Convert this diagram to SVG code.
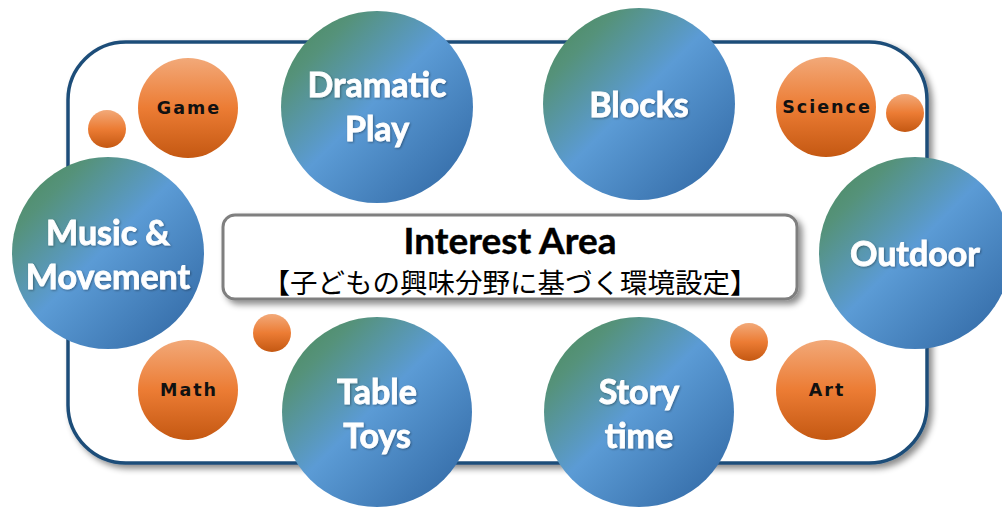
<svg xmlns="http://www.w3.org/2000/svg" width="1002" height="508" viewBox="0 0 1002 508">
<defs>
<linearGradient id="gBlue" x1="0" y1="0" x2="1" y2="1">
<stop offset="0" stop-color="#4a8a58"/>
<stop offset="0.2" stop-color="#55927a"/>
<stop offset="0.48" stop-color="#5b9bd5"/>
<stop offset="1" stop-color="#2e64a0"/>
</linearGradient>
<linearGradient id="gOrange" x1="0" y1="0" x2="0" y2="1">
<stop offset="0" stop-color="#f2a979"/>
<stop offset="0.5" stop-color="#ec7c34"/>
<stop offset="1" stop-color="#c45812"/>
</linearGradient>
<filter id="shadow" x="-10%" y="-10%" width="125%" height="130%">
<feDropShadow dx="4" dy="4" stdDeviation="3" flood-color="#000" flood-opacity="0.45"/>
</filter>
<filter id="tshadow" x="-10%" y="-10%" width="130%" height="140%">
<feDropShadow dx="1" dy="1" stdDeviation="1" flood-color="#000" flood-opacity="0.35"/>
</filter>
</defs>
<style>
.frame{fill:#fff;stroke:#1f4e79;stroke-width:3.5}
.box{fill:#fff;stroke:#7f7f7f;stroke-width:3}
.big{fill:url(#gBlue)}
.mid,.small{fill:url(#gOrange)}
.bt{font-family:Lato,"Open Sans",sans-serif;font-weight:700;font-size:34px;fill:#fff;stroke:#fff;stroke-width:0.8;text-anchor:middle}
.ot{font-family:"DejaVu Sans",sans-serif;font-weight:700;font-size:17.5px;fill:#111;text-anchor:middle;letter-spacing:2px}
.title{font-family:Lato,"Open Sans",sans-serif;font-weight:700;font-size:37px;fill:#000;text-anchor:middle;stroke:#000;stroke-width:0.4}
.sub{font-family:"Noto Sans CJK JP",sans-serif;font-size:27.5px;fill:#000;text-anchor:middle}
</style>
<rect id="frame" class="frame" x="68" y="42" width="859" height="421" rx="58" filter="url(#shadow)"/>
<g id="center">
<rect class="box" x="223" y="215" width="574" height="84" rx="12" filter="url(#shadow)"/>
<text class="title" x="510" y="254">Interest Area</text>
<text class="sub" x="510" y="293">【子どもの興味分野に基づく環境設定】</text>
</g>
<g id="dots">
<circle class="small" cx="107" cy="129" r="19"/>
<circle class="small" cx="905" cy="113" r="19"/>
<circle class="small" cx="272" cy="333" r="19"/>
<circle class="small" cx="749" cy="342" r="19"/>
</g>
<g id="game"><circle class="mid" cx="188" cy="108" r="50"/><text class="ot" x="189" y="114">Game</text></g>
<g id="science"><circle class="mid" cx="826" cy="107" r="50"/><text class="ot" x="827" y="113">Science</text></g>
<g id="math"><circle class="mid" cx="188" cy="390" r="50"/><text class="ot" x="189" y="396">Math</text></g>
<g id="art"><circle class="mid" cx="826" cy="390" r="50"/><text class="ot" x="827" y="396">Art</text></g>
<g id="dramatic"><circle class="big" cx="377" cy="107" r="96"/><text class="bt" x="377" y="97" filter="url(#tshadow)">Dramatic</text><text class="bt" x="377" y="141" filter="url(#tshadow)">Play</text></g>
<g id="blocks"><circle class="big" cx="639" cy="104" r="96"/><text class="bt" x="639" y="117" filter="url(#tshadow)">Blocks</text></g>
<g id="music"><circle class="big" cx="108" cy="253" r="96"/><text class="bt" x="108" y="245" filter="url(#tshadow)">Music &amp;</text><text class="bt" x="108" y="289" filter="url(#tshadow)">Movement</text></g>
<g id="outdoor"><circle class="big" cx="915" cy="253" r="96"/><text class="bt" x="915" y="266" filter="url(#tshadow)">Outdoor</text></g>
<g id="tabletoys"><circle class="big" cx="377" cy="412" r="95"/><text class="bt" x="377" y="404" filter="url(#tshadow)">Table</text><text class="bt" x="377" y="448" filter="url(#tshadow)">Toys</text></g>
<g id="story"><circle class="big" cx="639" cy="412" r="95"/><text class="bt" x="639" y="404" filter="url(#tshadow)">Story</text><text class="bt" x="639" y="448" filter="url(#tshadow)">time</text></g>
<g id="connectors"/>
</svg>
